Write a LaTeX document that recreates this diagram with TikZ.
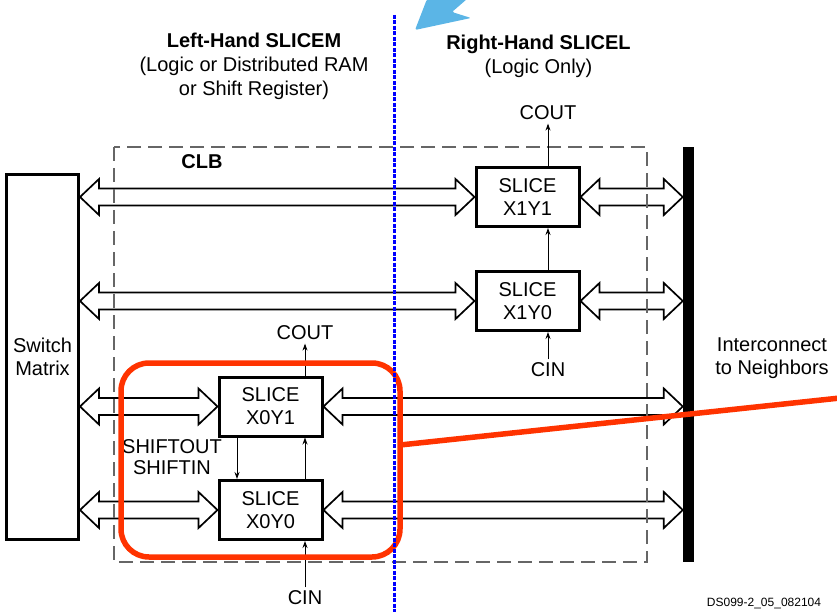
\documentclass[tikz,border=0pt]{standalone}
\usepackage{fontspec}
\setmainfont{Liberation Sans}
\usetikzlibrary{calc,arrows.meta}

\definecolor{hired}{RGB}{255,51,0}
\definecolor{pointer}{RGB}{91,181,230}

\tikzset{
  sliceblk/.style={draw, line width=3pt, minimum width=103pt, minimum height=59pt,
    inner sep=0pt, align=center, fill=white},
  busarr/.style={line width=1.7pt, line join=miter},
  sig/.style={-{Stealth[length=7pt,width=5pt]}, line width=0.9pt},
  clbframe/.style={draw=black!60, line width=1.2pt, dash pattern=on 14pt off 7pt},
  divider/.style={draw=blue, line width=3pt, dash pattern=on 4pt off 1.5pt},
  hilite/.style={draw=hired, line width=5.5pt},
}

% hollow two-line bus with an open head at both ends
\newcommand\busarrow[2]{%
  \path (#1) coordinate (ba) (#2) coordinate (bb);
  \draw[busarr] (ba) -- ++(19,-18) -- ++(0,9.5) -- ($(bb)+(-19,-8.5)$) -- ++(0,-9.5) -- (bb)
    -- ++(-19,18) -- ++(0,-9.5) -- ($(ba)+(19,8.5)$) -- ++(0,9.5) -- cycle;
}

\begin{document}
\begin{tikzpicture}[x=1pt, y=-1pt, font=\fontsize{20}{23}\selectfont]

  \useasboundingbox (0,0) rectangle (837,612);

  % ===== headings =====
  \node[align=center, font=\fontsize{20}{24}\selectfont] (lhead) at (254,66.5)
    {\textbf{Left-Hand SLICEM}\\(Logic or Distributed RAM\\or Shift Register)};
  \node[align=center, font=\fontsize{20}{24}\selectfont] (rhead) at (538.5,56)
    {\textbf{Right-Hand SLICEL}\\(Logic Only)};

  % ===== blocks =====
  \node[draw, line width=3pt, minimum width=72pt, minimum height=364pt,
    inner sep=0pt, align=center] (sm) at (42.5,357) {Switch\\Matrix};
  \node[sliceblk] (x1y1) at (527.5,197) {SLICE\\X1Y1};
  \node[sliceblk] (x1y0) at (527.5,301) {SLICE\\X1Y0};
  \node[sliceblk] (x0y1) at (270.5,406.5) {SLICE\\X0Y1};
  \node[sliceblk] (x0y0) at (270.5,510) {SLICE\\X0Y0};
  \node[fill=black, minimum width=11pt, minimum height=415pt, inner sep=0pt] (bar) at (688.5,354.5) {};

  % ===== busses =====
  \busarrow{sm.east |- x1y1.west}{x1y1.west}
  \busarrow{x1y1.east}{bar.west |- x1y1.east}
  \busarrow{sm.east |- x1y0.west}{x1y0.west}
  \busarrow{x1y0.east}{bar.west |- x1y0.east}
  \busarrow{sm.east |- x0y1.west}{x0y1.west}
  \busarrow{x0y1.east}{bar.west |- x0y1.east}
  \busarrow{sm.east |- x0y0.west}{x0y0.west}
  \busarrow{x0y0.east}{bar.west |- x0y0.east}

  % ===== CLB frame =====
  \draw[clbframe] (114,147) rectangle (647,562);
  \node (clb) at (202,162) {\textbf{CLB}};

  % ===== carry / shift chain =====
  \node (coutR) at (548,113) {COUT};
  \node (cinR) at (548,370) {CIN};
  \node (coutL) at (305,333) {COUT};
  \node (cinL) at (305,598) {CIN};
  \node[align=center, font=\fontsize{20}{21}\selectfont] (shift) at (172,457.5) {SHIFTOUT\\SHIFTIN};

  \draw[sig] ([xshift=20.5pt]x1y1.north) -- (coutR.south);
  \draw[sig] ([xshift=20.5pt]x1y0.north) -- ([xshift=20.5pt]x1y1.south);
  \draw[sig] (cinR.north) -- ([xshift=20.5pt]x1y0.south);
  \draw[sig] ([xshift=34.5pt]x0y1.north) -- (coutL.south);
  \draw[sig] ([xshift=34.5pt]x0y0.north) -- ([xshift=34.5pt]x0y1.south);
  \draw[sig] ([xshift=-33.5pt]x0y1.south) -- ([xshift=-33.5pt]x0y0.north);
  \draw[sig] (cinL.north) -- ([xshift=34.5pt]x0y0.south);

  % ===== labels =====
  \node[align=center] (ic) at (772,358) {Interconnect\\to Neighbors};
  \node[font=\fontsize{12}{14}\selectfont] (dsid) at (764,603) {DS099-2\_05\_082104};

  % ===== annotations =====
  \draw[hilite, rounded corners=28pt] (121,363) rectangle (400,557);
  \draw[hilite] (400,445) -- (840,398);
  \draw[divider] (394,15) -- (394,612);
  \fill[pointer, rounded corners=2pt] (415,30) -- (471,18) -- (452,12) -- (467,-1) -- (427,-1) -- cycle;

\end{tikzpicture}
\end{document}
